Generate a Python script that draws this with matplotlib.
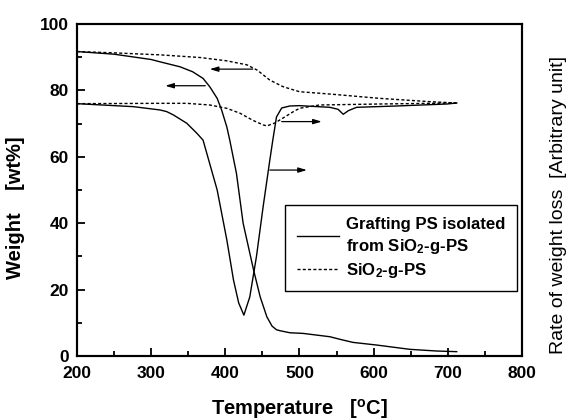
import matplotlib
matplotlib.use('Agg')
import matplotlib.pyplot as plt
from matplotlib.ticker import MultipleLocator

plt.rcParams.update({
    'font.family': ['Liberation Sans', 'DejaVu Sans'],
    'font.weight': 'bold',
    'axes.labelweight': 'bold',
    'mathtext.fontset': 'custom',
    'mathtext.rm': 'Liberation Sans:bold',
    'mathtext.it': 'Liberation Sans:bold',
    'mathtext.bf': 'Liberation Sans:bold',
    'mathtext.default': 'rm',
})

# TGA: weight of grafting PS isolated from SiO2-g-PS
tga_ps_T = [200, 250, 300, 312, 339, 356, 370, 379, 389, 395, 402, 406, 415, 424,
            438, 447, 456, 463, 469, 474, 487, 505, 541, 555, 572, 604, 649, 685, 712]
tga_ps_W = [91.7, 90.9, 89.3, 88.6, 87.1, 85.6, 83.6, 81.1, 77.6, 74.1, 69.0, 65.0, 55.0, 40.0,
            26.0, 17.8, 11.8, 9.0, 7.9, 7.6, 7.0, 6.8, 5.8, 5.0, 4.1, 3.3, 2.0, 1.5, 1.3]

# TGA: weight of SiO2-g-PS
tga_si_T = [200, 250, 312, 366, 402, 429, 443, 460, 478, 500, 541, 608, 676, 712]
tga_si_W = [91.7, 91.3, 90.7, 89.9, 88.9, 87.7, 86.1, 83.1, 81.1, 79.6, 78.9, 77.6, 76.6, 76.2]

# DTG: rate of weight loss, grafting PS
dtg_ps_T = [200, 276, 312, 321, 330, 348, 362, 370, 389, 402, 411, 418, 425, 433,
            442, 451, 460, 464, 469, 476, 487, 500, 541, 552, 559, 566, 577, 631, 699, 712]
dtg_ps_R = [76.0, 75.1, 74.1, 73.6, 72.6, 70.1, 67.0, 65.0, 50.0, 35.0, 22.9, 16.0, 12.3, 17.8,
            30.0, 45.0, 59.0, 65.0, 72.0, 74.7, 75.3, 75.4, 74.9, 74.3, 72.8, 73.9, 74.9, 75.3, 75.9, 76.2]

# DTG: rate of weight loss, SiO2-g-PS
dtg_si_T = [200, 312, 348, 379, 402, 420, 437, 451, 456, 467, 478, 491, 500, 527, 608, 712]
dtg_si_R = [76.0, 76.1, 76.1, 75.6, 74.6, 73.1, 71.0, 69.6, 69.3, 70.2, 71.7, 73.5, 74.6, 75.6, 75.9, 76.2]

# arrows: (start T, end T, level, axis)
arrows = [
    (437, 379, 86.4, 'weight'),
    (373, 319, 81.4, 'weight'),
    (476, 530, 70.6, 'rate'),
    (460, 510, 56.0, 'rate'),
]

fig = plt.figure(figsize=(5.67, 4.2), dpi=100)
ax = fig.add_axes([0.1358, 0.1524, 0.7848, 0.7905])
ax2 = ax.twinx()

dash = (0, (2.2, 1.6))
ax.plot(tga_ps_T, tga_ps_W, color='black', lw=1.0,
        label='Grafting PS isolated\nfrom SiO$_2$-g-PS')
ax.plot(tga_si_T, tga_si_W, color='black', lw=1.0, linestyle=dash, label='SiO$_2$-g-PS')
ax2.plot(dtg_ps_T, dtg_ps_R, color='black', lw=1.0)
ax2.plot(dtg_si_T, dtg_si_R, color='black', lw=1.0, linestyle=dash)

for t0, t1, lvl, which in arrows:
    target = ax if which == 'weight' else ax2
    target.annotate('', xy=(t1, lvl), xytext=(t0, lvl),
                    arrowprops=dict(arrowstyle='-|>,head_length=0.5,head_width=0.15',
                                    color='black', lw=0.9, shrinkA=0, shrinkB=0))

ax.set_xlim(200, 800)
ax.set_ylim(0, 100)
ax2.set_ylim(0, 100)
ax.xaxis.set_major_locator(MultipleLocator(100))
ax.xaxis.set_minor_locator(MultipleLocator(50))
ax.yaxis.set_major_locator(MultipleLocator(20))
ax.yaxis.set_minor_locator(MultipleLocator(10))
ax.tick_params(which='both', direction='in', top=False, right=False, labelsize=12.5, width=1.3)
ax.tick_params(which='major', length=6)
ax.tick_params(axis='x', which='major', pad=7)
ax.tick_params(axis='y', which='major', pad=6)
ax.tick_params(which='minor', length=3.5)
ax2.set_yticks([])
for a in (ax, ax2):
    for s in a.spines.values():
        s.set_linewidth(1.5)

ax.set_xlabel('Temperature   [$^{o}$C]', fontsize=14.5)
ax.set_ylabel('Weight    [wt%]', fontsize=14.5)
ax2.set_ylabel('Rate of weight loss  [Arbitrary unit]', fontsize=14, fontweight='normal')
ax.xaxis.set_label_coords(0.5, -0.125)
ax.yaxis.set_label_coords(-0.117, 0.446)
ax2.yaxis.set_label_coords(1.062, 0.455)

leg = ax.legend(loc='upper right', bbox_to_anchor=(0.989, 0.455), borderaxespad=0,
                fontsize=12.1, handlelength=2.5, handletextpad=0.4, borderpad=0.7,
                labelspacing=0.3, fancybox=False, framealpha=1, edgecolor='black')
leg.get_frame().set_linewidth(1.0)
leg.get_texts()[0].set_linespacing(1.35)

fig.savefig('out.png', dpi=100)
